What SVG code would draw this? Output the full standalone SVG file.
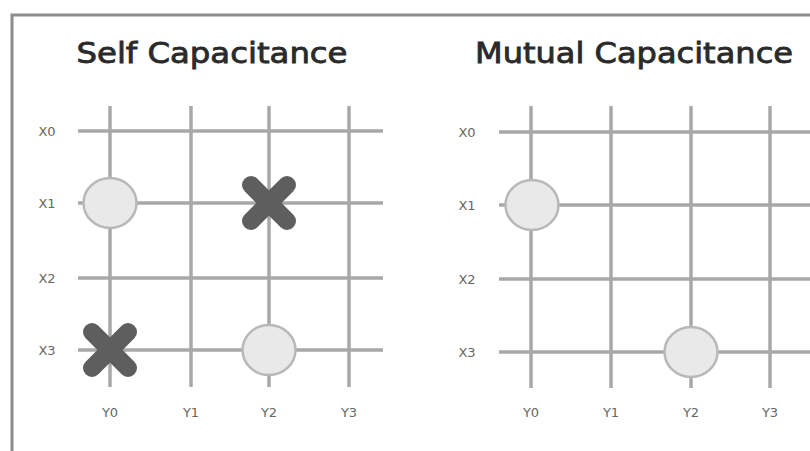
<svg xmlns="http://www.w3.org/2000/svg" width="810" height="451" viewBox="0 0 810 451">
<style>
.title{font-family:"DejaVu Sans",Verdana,sans-serif;font-size:28px;fill:#2a2a2a;stroke:#2a2a2a;stroke-width:0.8;text-anchor:middle}
.lbl{font-family:"DejaVu Sans",Verdana,sans-serif;font-size:13px;fill:#666;text-anchor:middle}
.grid line{stroke:#a8a8a8;stroke-width:3.5}
.node{fill:#e9e9e9;stroke:#b8b8b8;stroke-width:2.5}
.cross{stroke:#5e5e5e;stroke-width:18;stroke-linecap:round}
</style>
<rect x="0" y="0" width="810" height="451" fill="#fff"/>
<path d="M12 451 V15 H810" fill="none" stroke="#8c8c8c" stroke-width="3"/>

<!-- Left panel -->
<text class="title" x="212" y="63" textLength="271" lengthAdjust="spacingAndGlyphs">Self Capacitance</text>
<g id="left-grid" class="grid">
  <line x1="78" y1="131" x2="383" y2="131"/>
  <line x1="78" y1="203" x2="383" y2="203"/>
  <line x1="78" y1="278" x2="383" y2="278"/>
  <line x1="78" y1="350" x2="383" y2="350"/>
  <line x1="110" y1="106" x2="110" y2="387"/>
  <line x1="191" y1="106" x2="191" y2="387"/>
  <line x1="269" y1="106" x2="269" y2="387"/>
  <line x1="349" y1="106" x2="349" y2="387"/>
</g>
<g id="left-labels">
  <text class="lbl" x="47" y="136">X0</text>
  <text class="lbl" x="47" y="208">X1</text>
  <text class="lbl" x="47" y="283">X2</text>
  <text class="lbl" x="47" y="355">X3</text>
  <text class="lbl" x="110" y="417">Y0</text>
  <text class="lbl" x="191" y="417">Y1</text>
  <text class="lbl" x="269" y="417">Y2</text>
  <text class="lbl" x="349" y="417">Y3</text>
</g>
<g id="self-touch-1"><ellipse class="node" cx="110" cy="203" rx="26.5" ry="25"/></g>
<g id="self-touch-2"><ellipse class="node" cx="269" cy="350" rx="26.5" ry="25"/></g>
<g id="self-ghost-1"><path class="cross" d="M251 185 L287 221 M287 185 L251 221"/></g>
<g id="self-ghost-2"><path class="cross" d="M92 332 L128 368 M128 332 L92 368"/></g>

<!-- Right panel -->
<text class="title" x="634" y="63" textLength="318" lengthAdjust="spacingAndGlyphs">Mutual Capacitance</text>
<g id="right-grid" class="grid">
  <line x1="499" y1="132" x2="810" y2="132"/>
  <line x1="499" y1="205" x2="810" y2="205"/>
  <line x1="499" y1="279" x2="810" y2="279"/>
  <line x1="499" y1="352" x2="810" y2="352"/>
  <line x1="531" y1="106" x2="531" y2="388"/>
  <line x1="611" y1="106" x2="611" y2="388"/>
  <line x1="691" y1="106" x2="691" y2="388"/>
  <line x1="770" y1="106" x2="770" y2="388"/>
</g>
<g id="right-labels">
  <text class="lbl" x="467" y="137">X0</text>
  <text class="lbl" x="467" y="210">X1</text>
  <text class="lbl" x="467" y="284">X2</text>
  <text class="lbl" x="467" y="357">X3</text>
  <text class="lbl" x="531" y="417">Y0</text>
  <text class="lbl" x="611" y="417">Y1</text>
  <text class="lbl" x="691" y="417">Y2</text>
  <text class="lbl" x="770" y="417">Y3</text>
</g>
<g id="mutual-touch-1"><ellipse class="node" cx="532" cy="205" rx="26.5" ry="25"/></g>
<g id="mutual-touch-2"><ellipse class="node" cx="691" cy="352" rx="26.5" ry="25"/></g>
</svg>
